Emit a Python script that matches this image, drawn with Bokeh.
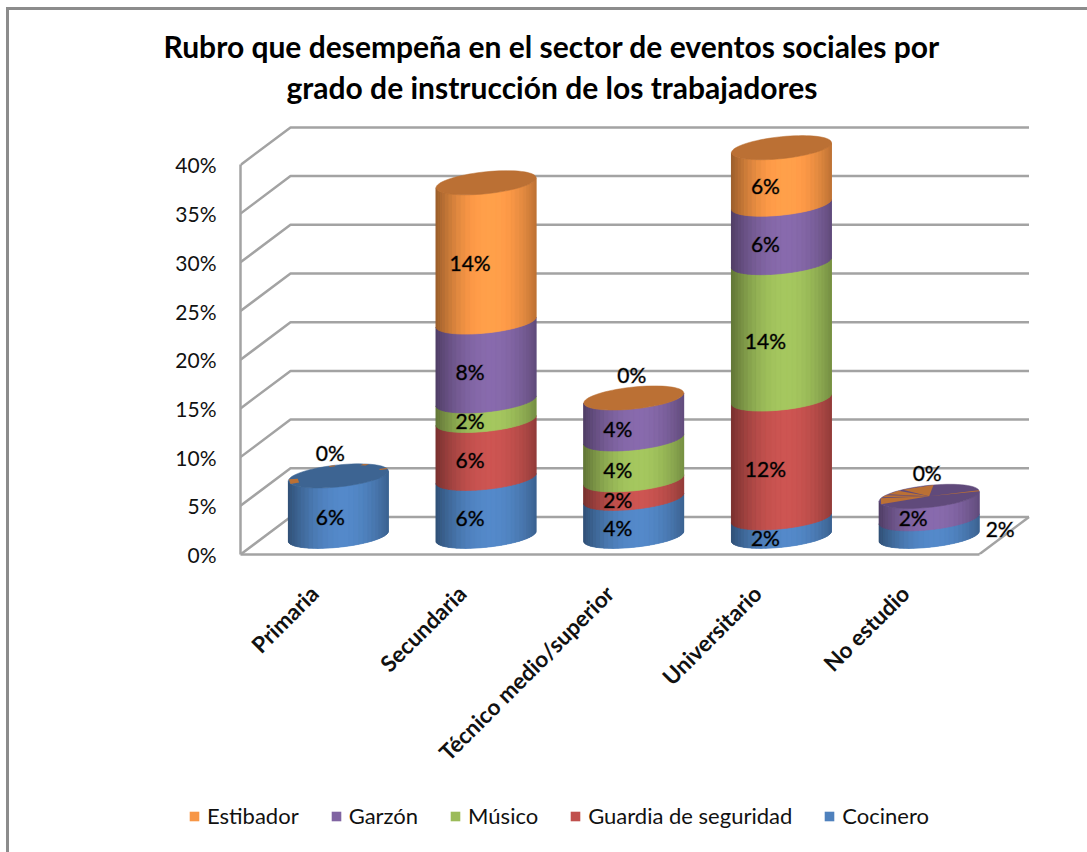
import math
from bokeh.plotting import figure
from bokeh.models import Range1d, FixedTicker, Legend, LegendItem, Title, ColumnDataSource
from bokeh.core.properties import value
from bokeh.embed import file_html
from bokeh.resources import INLINE

title_lines = ["Rubro que desempeña en el sector de eventos sociales por",
               "grado de instrucción de los trabajadores"]
categories = ["Primaria", "Secundaria", "Técnico medio/superior", "Universitario", "No estudio"]
y_ticks = [0, 5, 10, 15, 20, 25, 30, 35, 40]
y_tick_labels = ["0%", "5%", "10%", "15%", "20%", "25%", "30%", "35%", "40%"]

cocinero = [6.2, 5.95, 3.9, 1.9, 1.8]
guardia = [0, 5.95, 1.9, 12.2, 0]
musico = [0, 2.0, 4.2, 14.0, 0]
garzon = [0, 8.1, 4.2, 6.0, 2.3]
estibador = [0, 14.3, 0, 5.8, 0]

series_names = ["Cocinero", "Guardia de seguridad", "Músico", "Garzón", "Estibador"]
series_values = [cocinero, guardia, musico, garzon, estibador]
series_colors = ["#4F81BD", "#C0504D", "#9BBB59", "#8064A2", "#F79646"]
top_face_colors = ["#3D6492", "#BB7034", "#BB7034", "#BB7034", "#604A7B"]

FONT = "Lato"
PX_X, PX_Y = 147.7, 9.74        # pixels per category, per percent
DEPTH_X, DEPTH_Y = 50 / PX_X, 37.5 / PX_Y
RX = 50 / PX_X
TILT, MINOR = 5 / PX_Y, 11 / PX_Y
BASE_X, BASE_Y = 24 / PX_X, 18.2 / PX_Y
GRID = "#A3A3A3"
EDGE = "linear-gradient(#8C8C8C,#8C8C8C)"
HALO = "rgba(0,0,0,0.35)"

p = figure(frame_width=820, frame_height=439, output_backend="svg", toolbar_location=None,
           x_range=Range1d(-0.5, -0.5 + 820 / PX_X), y_range=Range1d(0, 439 / PX_Y),
           min_border_left=240, min_border_right=27, min_border_top=115, min_border_bottom=215,
           border_fill_color=None, background_fill_color=None,
           styles={"background": f"{EDGE} 6px 7px/1081px 3px no-repeat, {EDGE} 6px 7px/3px 771px no-repeat"})
p.outline_line_color = None
p.grid.visible = False

# title: two stacked lines, held clear of the plot by a blank spacer title
p.title = Title(text=title_lines[0], align="left", offset=-77, text_font=FONT, text_font_size="30px",
                text_font_style="bold", text_color="#000000", standoff=3)
p.add_layout(Title(text=" ", text_font_size="1px", standoff=6), "above")
p.add_layout(Title(text=title_lines[1], align="left", offset=46, text_font=FONT, text_font_size="30px",
                   text_font_style="bold", text_color="#000000", standoff=3), "above")

# axes
p.xaxis.ticker = FixedTicker(ticks=list(range(len(categories))))
p.xaxis.major_label_overrides = {i: c for i, c in enumerate(categories)}
p.xaxis.major_label_orientation = math.pi / 4
p.xaxis.major_label_standoff = 29
p.xaxis.bounds = (-0.5, 4.5)
p.yaxis.ticker = FixedTicker(ticks=y_ticks)
p.yaxis.major_label_overrides = dict(zip(y_ticks, y_tick_labels))
p.yaxis.major_label_standoff = 18
p.yaxis.bounds = (0, 40)
for ax, size, style in ((p.xaxis, "22.5px", "bold"), (p.yaxis, "21px", "normal")):
    ax.major_label_text_font = FONT
    ax.major_label_text_font_size = size
    ax.major_label_text_font_style = style
    ax.major_label_text_color = "#111111"
    ax.major_tick_line_color = None
    ax.minor_tick_line_color = None
    ax.axis_line_color = GRID
    ax.axis_line_width = 2.5

# walls and floor
xs, ys = [], []
for t in y_ticks:
    xs.append([-0.5, -0.5 + DEPTH_X, 4.5 + DEPTH_X])
    ys.append([t, t + DEPTH_Y, t + DEPTH_Y])
xs.append([4.5, 4.5 + DEPTH_X])
ys.append([0, DEPTH_Y])
p.multi_line(xs, ys, line_color=GRID, line_width=2.5)


def shade(hex_color, u):
    f = 0.62 + 0.45 * max(0.0, 1 - ((u - 0.1) / 1.1) ** 2)
    rgb = [int(hex_color[i:i + 2], 16) for i in (1, 3, 5)]
    return "#%02x%02x%02x" % tuple(min(255, int(c * f)) for c in rgb)


def front(u):
    return TILT * u - MINOR * math.sqrt(max(0.0, 1 - u * u))


N = 30
us = [-math.cos(math.pi * j / N) for j in range(N + 1)]
strip_x, strip_y, strip_c = [], [], []
for s, (name, vals, col) in enumerate(zip(series_names, series_values, series_colors)):
    fx, fy = [], []
    for i, v in enumerate(vals):
        if v <= 0:
            continue
        low = BASE_Y + sum(series_values[k][i] for k in range(s))
        high = low + v
        cx = i + BASE_X
        fx.append([cx + RX * u for u in us] + [cx + RX * u for u in reversed(us)])
        fy.append([low + front(u) for u in us] + [high + front(u) for u in reversed(us)])
        for j in range(N):
            u0, u1 = us[j], us[j + 1]
            strip_x.append([cx + RX * u0, cx + RX * u1, cx + RX * u1, cx + RX * u0])
            strip_y.append([low + front(u0), low + front(u1), high + front(u1), high + front(u0)])
            strip_c.append(shade(col, (u0 + u1) / 2))
    p.patches(fx, fy, fill_color=col, line_color=None)
p.patches("x", "y", fill_color="c", line_color="c", line_width=0.7,
          source=ColumnDataSource(dict(x=strip_x, y=strip_y, c=strip_c)))

# top faces
totals = [sum(sv[i] for sv in series_values) for i in range(len(categories))]
ang = [2 * math.pi * k / 72 for k in range(72)]
tx, ty = [], []
for i, t in enumerate(totals):
    cx, cy = i + BASE_X, BASE_Y + t
    tx.append([cx + RX * math.cos(a) for a in ang])
    ty.append([cy + TILT * math.cos(a) + MINOR * math.sin(a) for a in ang])
p.patches(tx, ty, fill_color=top_face_colors, line_color=top_face_colors, line_width=0.5)

# 0 % segments showing through the top faces: (category, inner radius, from deg, to deg)
specks = [(0, 0.82, 172, 197), (0, 0.9, 94, 101), (0, 0.88, 52, 60), (0, 0.85, 10, 17),
          (4, 0.0, 85, 122), (4, 0.0, 128, 145), (4, 0.0, 150, 160), (4, 0.0, 165, 196), (4, 0.0, 1, 6)]
wx, wy = [], []
for i, r0, a0, a1 in specks:
    cx, cy = i + BASE_X, BASE_Y + totals[i]
    pts = [math.radians(a0), math.radians(a1)]
    rim = [(math.cos(a), math.sin(a)) for a in pts]
    shape = [(r0 * c, r0 * s) for c, s in rim[::-1]] + rim
    wx.append([cx + RX * c for c, s in shape])
    wy.append([cy + TILT * c + MINOR * s for c, s in shape])
p.patches(wx, wy, fill_color="#BB7034", line_color=None)

# data labels
label_dx = [-8, -16, -16, -16, -16]
zero_dx = [-8, -2, -2, -2, -2]
lx, ly, lt = [], [], []
for s, vals in enumerate(series_values):
    for i, v in enumerate(vals):
        if v <= 0:
            continue
        low = BASE_Y + sum(series_values[k][i] for k in range(s))
        dx = label_dx[i]
        dy = -10
        if s == 0 and i == 4:      # label pushed outside the short cylinder
            dx, dy = 71, 26 - (low + v / 2) * PX_Y
        lx.append(i + BASE_X + dx / PX_X)
        ly.append(low + v / 2 + dy / PX_Y)
        lt.append(f"{round(v)}%")
for i, v in enumerate(estibador):
    if v == 0:
        lx.append(i + BASE_X + zero_dx[i] / PX_X)
        ly.append(BASE_Y + totals[i] + 23.7 / PX_Y)
        lt.append("0%")
p.text(lx, ly, text=lt, text_align="center", text_baseline="middle", text_font=value(FONT),
       text_font_size="21px", text_color="#000000", text_outline_color=HALO)

# legend strip, a figure of its own under the chart
p2 = figure(width=1087, height=74, output_backend="svg", toolbar_location=None,
            x_range=Range1d(0, 1087), y_range=Range1d(0, 74),
            min_border_left=0, min_border_right=0, min_border_top=0, min_border_bottom=0,
            border_fill_color=None, background_fill_color=None,
            styles={"background": f"{EDGE} 6px 0/3px 74px no-repeat"})
p2.outline_line_color = None
p2.grid.visible = False
p2.axis.visible = False
order = ["Estibador", "Garzón", "Músico", "Guardia de seguridad", "Cocinero"]
refs = {n: p2.quad(left=[-20], right=[-10], top=[-10], bottom=[-20], fill_color=c, line_color=None)
        for n, c in zip(series_names, series_colors)}
legend = Legend(items=[LegendItem(label=n, renderers=[refs[n]]) for n in order],
                orientation="horizontal", location=(188, 23), padding=0, margin=0, spacing=31,
                glyph_width=12, glyph_height=12, label_standoff=7, border_line_color=None,
                background_fill_alpha=0, label_text_font=FONT, label_text_font_size="22px",
                label_text_color="#111111")
p2.add_layout(legend, "center")

open("out.html", "w").write(file_html([p, p2], INLINE))
